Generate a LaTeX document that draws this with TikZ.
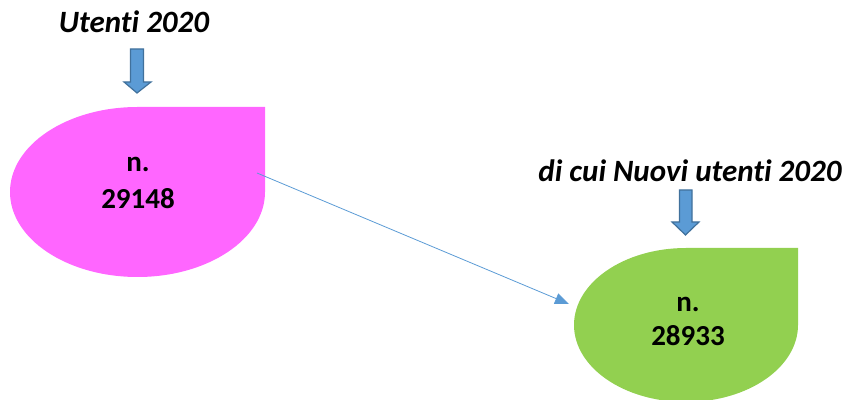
\documentclass[tikz,border=0pt]{standalone}
\usepackage{fontspec}
\setmainfont[Ligatures=NoCommon]{Carlito}
\usetikzlibrary{arrows.meta}
\definecolor{pinkfill}{HTML}{FF66FF}
\definecolor{greenfill}{HTML}{92D050}
\definecolor{arrowblue}{HTML}{5B9BD5}
\definecolor{arrowedge}{HTML}{41719C}
\tikzset{
  numtext/.style={font=\fontsize{29}{36}\selectfont\bfseries, text=black, anchor=base, inner sep=0pt},
  headtext/.style={font=\fontsize{31}{36}\selectfont\bfseries\itshape, text=black, anchor=base, inner sep=0pt},
  blockarrow/.style={fill=arrowblue, draw=arrowedge, line width=1.2pt, line join=miter},
  conn/.style={draw=arrowblue, line width=0.8pt, -{Triangle[length=14pt,width=11pt]}}
}
\begin{document}
\begin{tikzpicture}[x=1pt,y=1pt]
\useasboundingbox (0,0) rectangle (851,399);
% pink teardrop
\fill[pinkfill] (265,292) -- (137.5,292) arc[start angle=90,end angle=360,x radius=127.5,y radius=85] -- cycle;
% green teardrop
\fill[greenfill] (798,151) -- (686,151) arc[start angle=90,end angle=360,x radius=112,y radius=77] -- cycle;
% texts
\node[numtext] (n1a) at (138,227.5) {n.};
\node[numtext] (n1b) at (138,190) {29148};
\node[numtext] (n2a) at (688,87) {n.};
\node[numtext] (n2b) at (688,53) {28933};
\node[headtext] (h1) at (134,366) {Utenti 2020};
\node[headtext] (h2) at (690,217) {di cui Nuovi utenti 2020};
% block arrows
\draw[blockarrow] (130.5,350) -- (143.5,350) -- (143.5,317) -- (151,317) -- (137,306) -- (124,317) -- (130.5,317) -- cycle;
\draw[blockarrow] (679.5,209) -- (692,209) -- (692,177) -- (699,177) -- (685.5,164) -- (672,177) -- (679.5,177) -- cycle;
% connector
\coordinate (c1) at (257,226);
\coordinate (c2) at (569,95);
\draw[conn] (c1) -- (c2);
\end{tikzpicture}
\end{document}
